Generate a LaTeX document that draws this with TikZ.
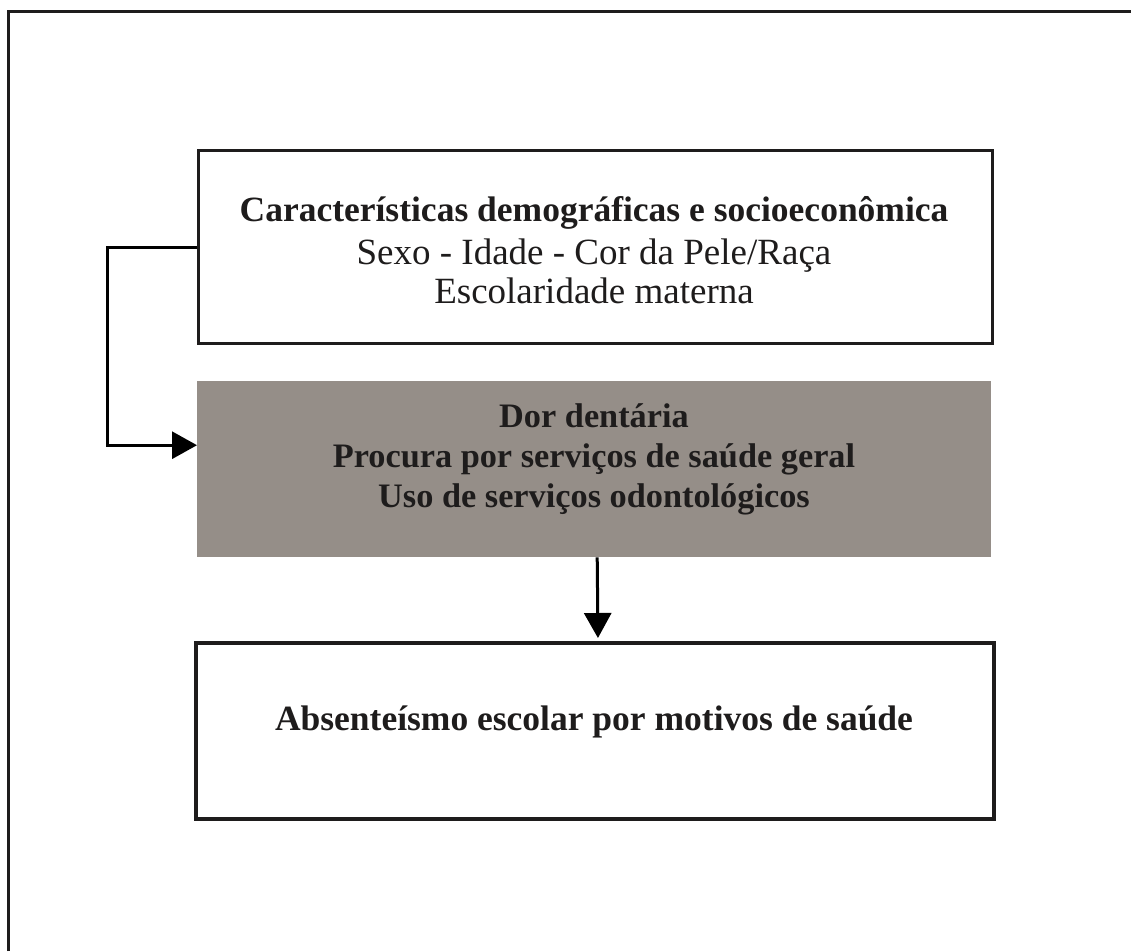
\documentclass[tikz,border=0pt]{standalone}
\usepackage{fontspec}
\setmainfont{Liberation Serif}
\usetikzlibrary{arrows.meta}
\definecolor{boxgray}{RGB}{149,142,136}
\definecolor{ink}{RGB}{30,28,28}
\begin{document}
\begin{tikzpicture}[x=1pt,y=-1pt,
  frame/.style={line width=3pt, draw=ink},
  box/.style={draw=ink, line width=3.2pt, inner sep=0pt, anchor=north west},
  graybox/.style={fill=boxgray, draw=none, inner sep=0pt, anchor=north west},
  txt/.style={text=ink, align=center, inner sep=0pt},
  line/.style={text=ink, inner sep=0pt, anchor=base},
  conn/.style={line width=3pt, draw=black},
  tip/.style={-{Triangle[length=25pt,width=27pt]}}
]
\useasboundingbox (0,0) rectangle (1131,951);
\draw[frame] (8,951) -- (8,11) -- (1131,11);

\node[box, minimum width=794pt, minimum height=193pt] (demo) at (197,149) {};
\node[graybox, minimum width=794pt, minimum height=176pt] (gray) at (197,381) {};
\node[box, line width=4pt, minimum width=798pt, minimum height=176pt] (absent) at (194,641) {};

\node[line, font=\fontsize{35.5}{38}\selectfont\bfseries] (title) at (594,221)
  {Características demográficas e socioeconômica};
\node[line, font=\fontsize{37}{40}\selectfont] (sexo) at (594,264)
  {Sexo - Idade - Cor da Pele/Raça};
\node[line, font=\fontsize{37}{40}\selectfont] (escol) at (594,303)
  {Escolaridade materna};

\node[txt, font=\fontsize{34.3}{40}\selectfont\bfseries] (graytext) at (594,459)
  {Dor dentária\\
   Procura por serviços de saúde geral\\
   Uso de serviços odontológicos};
\node[txt, font=\fontsize{35.5}{40}\selectfont\bfseries] (absenttext) at (594,722)
  {Absenteísmo escolar por motivos de saúde};

\draw[conn, tip] (demo.west) -- ++(-90,0) |- ([yshift=24pt]gray.west);
\draw[conn, tip, shorten >=3pt] ([xshift=3pt]gray.south) -- ([xshift=3pt]absent.north);
\end{tikzpicture}
\end{document}
